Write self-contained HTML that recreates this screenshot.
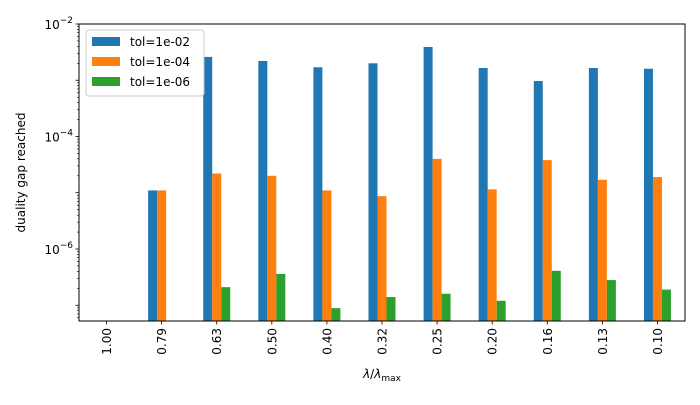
<!DOCTYPE html>
<html><head><meta charset="utf-8"><style>
body{margin:0;background:#fff;font-family:"Liberation Sans","DejaVu Sans",sans-serif;}
text{font-family:"DejaVu Sans","Liberation Sans",sans-serif;}
</style></head><body>
<svg id="chart" width="700" height="400" xmlns="http://www.w3.org/2000/svg"></svg>
<script>
const categories=["1.00","0.79","0.63","0.50","0.40","0.32","0.25","0.20","0.16","0.13","0.10"];
const tol1=[null,1.1e-5,2.6e-3,2.2e-3,1.7e-3,2.0e-3,3.9e-3,1.65e-3,9.7e-4,1.65e-3,1.6e-3];
const tol2=[null,1.1e-5,2.2e-5,2.0e-5,1.1e-5,8.7e-6,4.0e-5,1.15e-5,3.8e-5,1.7e-5,1.9e-5];
const tol3=[null,null,2.1e-7,3.6e-7,8.9e-8,1.4e-7,1.6e-7,1.2e-7,4.1e-7,2.8e-7,1.9e-7];
const seriesNames=["tol=1e-02","tol=1e-04","tol=1e-06"];
const yTicks=[-6,-4,-2];
const NS="http://www.w3.org/2000/svg";
const svg=document.getElementById('chart');
const L=79,R=685,T=24,B=321;
const yMin=-7.28,yMax=-2;
function y(v){return T+(yMax-Math.log10(v))/(yMax-yMin)*(B-T);}
const step=(R-L)/categories.length;
function xc(i){return L+step*(i+0.5);}
function el(tag,attrs,parent){const e=document.createElementNS(NS,tag);for(const k in attrs)e.setAttribute(k,attrs[k]);(parent||svg).appendChild(e);return e;}
const colors=["#1f77b4","#ff7f0e","#2ca02c"];
const all=[tol1,tol2,tol3];
const bw=9;
all.forEach((s,si)=>{s.forEach((v,i)=>{if(v==null)return;
const r=el('rect',{x:xc(i)+(si-1.5)*bw,y:y(v),width:bw,height:B-y(v),fill:colors[si]});

});});
const fr=el('rect',{x:L,y:T,width:R-L,height:B-T,fill:'none',stroke:'#000','stroke-width':1});

for(let d=-8;d<=-2;d++){for(let m=1;m<10;m++){const v=m*Math.pow(10,d);const lv=Math.log10(v);if(lv<yMin||lv>yMax+1e-9)continue;
const yy=y(v);el('line',{x1:L,x2:L-(m==1?3.5:2),y1:yy,y2:yy,stroke:'#000','stroke-width':m==1?0.8:0.6});}}
yTicks.forEach(t=>{const tx=el('text',{x:L-6,y:y(Math.pow(10,t))+5,'text-anchor':'end','font-size':12});

tx.innerHTML='10<tspan dy="-6" font-size="9">−'+(-t)+'</tspan>';});
categories.forEach((c,i)=>{el('line',{x1:xc(i),x2:xc(i),y1:B,y2:B+3.5,stroke:'#000','stroke-width':0.8});
const tx=el('text',{x:0,y:0,'text-anchor':'end','font-size':12,transform:`translate(${xc(i)+4.5},${B+7}) rotate(-90)`});
tx.textContent=c;});
const yt=el('text',{x:0,y:0,'text-anchor':'middle','font-size':12,transform:`translate(25,${(T+B)/2}) rotate(-90)`});
yt.textContent='duality gap reached';
const xt=el('text',{x:(L+R)/2,y:378,'text-anchor':'middle','font-size':12});

xt.innerHTML='<tspan font-style="italic">λ</tspan>/<tspan font-style="italic">λ</tspan><tspan font-size="9" dy="3">max</tspan>';
const lg=el('g',{});
el('rect',{x:86,y:30,width:118,height:66,rx:3,fill:'#fff','fill-opacity':0.8,stroke:'#ccc'},lg);
seriesNames.forEach((n,i)=>{const g=el('g',{},lg);
el('rect',{x:92,y:37+i*20,width:28,height:9,fill:colors[i]},g);
const t=el('text',{x:130,y:46+i*20,'font-size':12},g);t.textContent=n;});
</script>
</body></html>
